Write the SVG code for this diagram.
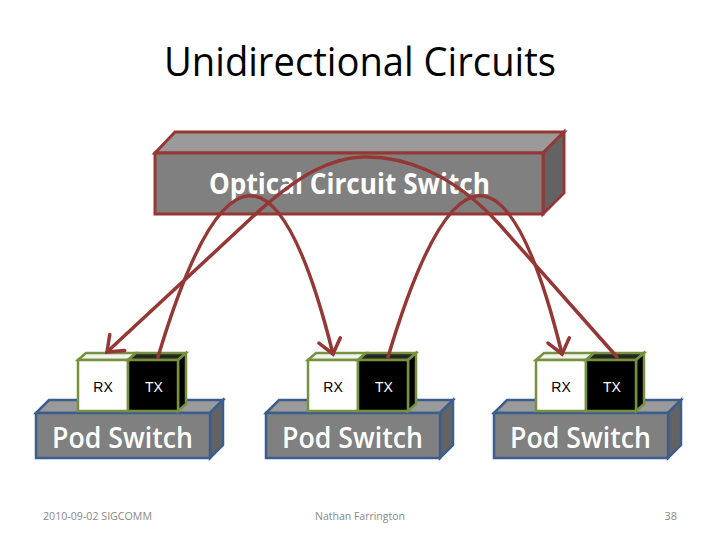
<svg xmlns="http://www.w3.org/2000/svg" width="720" height="540" viewBox="0 0 720 540">
<defs>
<style>
.ocs{stroke:#953735;stroke-width:3;stroke-linejoin:miter}
.pod{stroke:#3B5E8C;stroke-width:2.5;stroke-linejoin:miter}
.trx{stroke:#76923C;stroke-width:2.5;stroke-linejoin:miter}
.front{fill:#808080}
.top{fill:#9a9a9a}
.side{fill:#636363}
.lbl{font-family:"Open Sans","Liberation Sans",sans-serif;fill:#ffffff;font-weight:700}
.plbl{font-family:"Open Sans","Liberation Sans",sans-serif;fill:#ffffff;font-weight:600}
.small{font-family:"Liberation Sans",Arial,sans-serif;font-size:14px;text-anchor:middle}
.foot{font-family:"Open Sans","Liberation Sans",sans-serif;font-size:11px;fill:#898989}
.arc{fill:none;stroke:#953735;stroke-width:3.5;stroke-linecap:round;stroke-linejoin:round;marker-end:url(#ah)}
</style>
<marker id="ah" markerUnits="userSpaceOnUse" viewBox="-18 -14 22 28" refX="0" refY="0" markerWidth="22" markerHeight="28" orient="auto" overflow="visible">
<path d="M-14,-11 L0,0 L-14,11" fill="none" stroke="#953735" stroke-width="3.5" stroke-linecap="round" stroke-linejoin="miter"/>
</marker>
<g id="podshape">
<polygon class="pod top" points="36,413 49,400 223,400 210,413"/>
<polygon class="pod side" points="210,413 223,400 223,445 210,458"/>
<rect class="pod front" x="36" y="413" width="174" height="45"/>
<polygon class="trx" fill="#f2f2f2" points="78,360 86,353 136,353 128,360"/>
<rect class="trx" fill="#ffffff" x="78" y="360" width="50" height="51"/>
<polygon class="trx" fill="#262626" points="128,360 136,353 186,353 178,360"/>
<polygon class="trx" fill="#000000" points="178,360 186,353 186,404 178,411"/>
<rect class="trx" fill="#000000" x="128" y="360" width="50" height="51"/>
<text class="small" x="103" y="392" fill="#000000">RX</text>
<text class="small" x="154" y="392" fill="#ffffff">TX</text>
<text class="plbl" x="52" y="448" font-size="28" textLength="141" lengthAdjust="spacingAndGlyphs">Pod Switch</text>
</g>
</defs>
<rect width="720" height="540" fill="#ffffff"/>
<text x="360" y="76" font-family="'Open Sans','Liberation Sans',sans-serif" font-size="40" text-anchor="middle" textLength="392" lengthAdjust="spacingAndGlyphs" fill="#000000">Unidirectional Circuits</text>
<g id="ocs">
<polygon class="ocs top" points="155,153 175,132 564,132 543,153"/>
<polygon class="ocs side" points="543,153 564,132 564,193 543,214"/>
<rect class="ocs front" x="155" y="153" width="388" height="61"/>
<text class="lbl" x="209" y="194" font-size="29" textLength="281" lengthAdjust="spacingAndGlyphs">Optical Circuit Switch</text>
</g>
<g id="pod1"><use href="#podshape"/></g>
<g id="pod2"><use href="#podshape" transform="translate(230,0)"/></g>
<g id="pod3"><use href="#podshape" transform="translate(458,0)"/></g>
<g id="connectors">
<path class="arc" d="M158,357 Q254,36 333,354"/>
<path class="arc" d="M388,357 Q484,36 562,354"/>
<path class="arc" d="M617,357 L500,225 C450,170 400,156 363,157 C330,158 300,175 260,210 L107,352"/>
</g>
<text class="foot" x="43" y="520" font-size="12" textLength="109" lengthAdjust="spacingAndGlyphs">2010-09-02 SIGCOMM</text>
<text class="foot" x="360" y="520" text-anchor="middle" textLength="90" lengthAdjust="spacingAndGlyphs">Nathan Farrington</text>
<text class="foot" x="677" y="520" text-anchor="end">38</text>
</svg>
